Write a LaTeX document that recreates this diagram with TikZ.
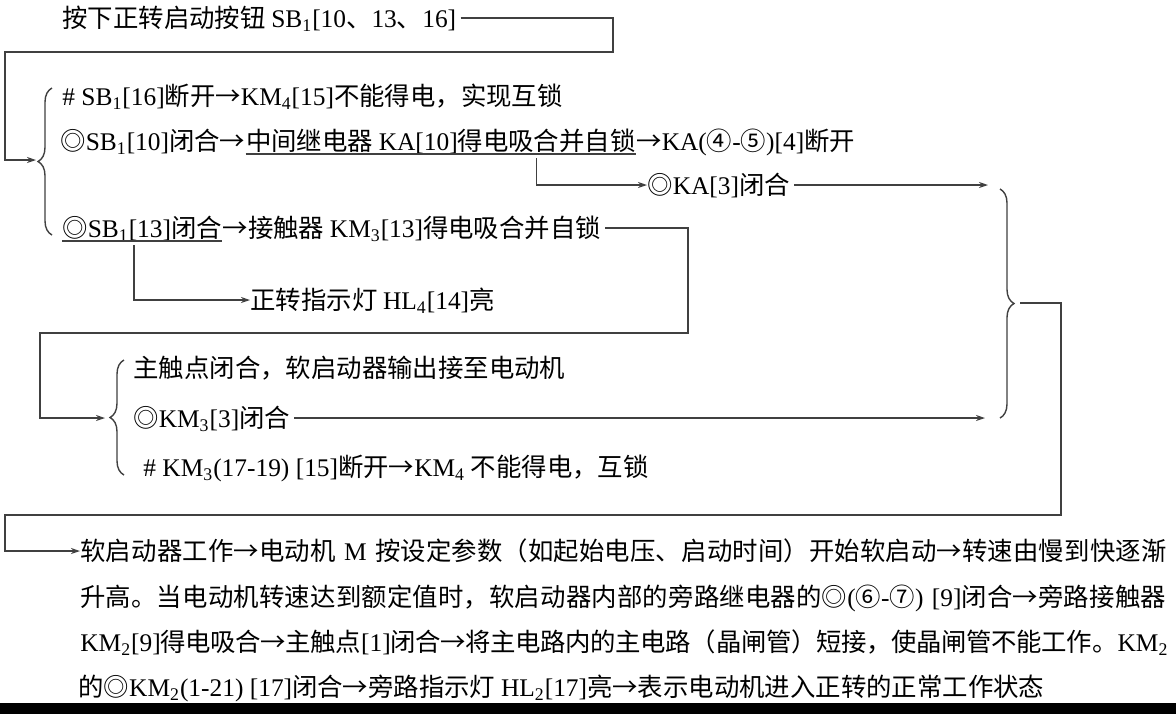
\documentclass[tikz,border=0pt]{standalone}
\usepackage{fontspec}
\setmainfont{Noto Sans CJK SC}
\newfontfamily\lat{Liberation Serif}
\usetikzlibrary{arrows.meta,decorations.pathreplacing,calc}
\newcommand{\ls}[1]{{\lat #1}}
\newcommand{\sbs}[1]{\textsubscript{#1}}
\XeTeXlinebreaklocale "zh"
\XeTeXlinebreakskip=0pt plus 2pt minus .6pt
\begin{document}
\begin{tikzpicture}[x=.5pt,y=-.5pt,
  txt/.style={anchor=west,inner sep=0pt,text height=11.2pt,text depth=1.5pt,
    font=\fontsize{12.7pt}{15pt}\selectfont},
  fullline/.style={text width=544pt,execute at begin node={\noindent\parfillskip=0pt}},
  ln/.style={draw=black!75,line width=.7pt},
  brc/.style={ln,decorate,decoration={brace,amplitude=7pt}},
  >={Stealth[length=4.5pt,width=3pt]}]

        \fill[white] (0,0) rectangle (1176,714);
        \useasboundingbox (0,0) rectangle (1176,714);
        \fill[black] (0,703) rectangle (1176,714);

        \begin{scope}[every node/.style={txt}]
          \node (1)  at (62,18)   {按下正转启动按钮 \ls{SB\sbs{1}[10}、\ls{13}、\ls{16]}};
          \node (2)  at (62,96)   {\ls{\# SB\sbs{1}[16]}断开→\ls{KM\sbs{4}[15]}不能得电，实现互锁};
          \node (3)  at (60,141)  {◎\ls{SB\sbs{1}[10]}闭合→};
          \node (4)  at (3.east)  {中间继电器 \ls{KA[10]}得电吸合并自锁};
          \node (5)  at (4.east)  {→\ls{KA(}④\ls{-}⑤\ls{)[4]}断开};
          \node (6)  at (647,185) {◎\ls{KA[3]}闭合};
          \node (7)  at (62,228)  {◎\ls{SB\sbs{1}[13]}闭合};
          \node (8)  at (7.east)  {→接触器 \ls{KM\sbs{3}[13]}得电吸合并自锁};
          \node (9)  at (250,300) {正转指示灯 \ls{HL\sbs{4}[14]}亮};
          \node (10) at (133,368) {主触点闭合，软启动器输出接至电动机};
          \node (11) at (133,418) {◎\ls{KM\sbs{3}[3]}闭合};
          \node (12) at (143,467) {\ls{\# KM\sbs{3}(17-19) [15]}断开→\ls{KM\sbs{4}} 不能得电，互锁};
          \node[fullline] (13) at (80,551) {软启动器工作→电动机 \ls{M} 按设定参数（如起始电压、启动时间）开始软启动→转速由慢到快逐渐};
          \node[fullline] (14) at (80,597) {升高。当电动机转速达到额定值时，软启动器内部的旁路继电器的◎\ls{(}⑥\ls{-}⑦\ls{) [9]}闭合→旁路接触器};
          \node[fullline] (15) at (80,642) {\ls{KM\sbs{2}[9]}得电吸合→主触点\ls{[1]}闭合→将主电路内的主电路（晶闸管）短接，使晶闸管不能工作。\ls{KM\sbs{2}}};
          \node (16) at (78,687)  {的◎\ls{KM\sbs{2}(1-21) [17]}闭合→旁路指示灯 \ls{HL\sbs{2}[17]}亮→表示电动机进入正转的正常工作状态};
        \end{scope}

        \coordinate (r1) at (613,52);
        \coordinate (l1) at (5,52);
        \coordinate (b1) at (36,160);
        \coordinate (a1) at (988,185);
        \coordinate (r2) at (688,333);
        \coordinate (l2) at (40,333);
        \coordinate (b2) at (105,418);
        \coordinate (a2) at (985,418);
        \coordinate (b3) at (1016,303);
        \coordinate (r3) at (1061,515);
        \coordinate (l3) at (5,515);

        \draw[brc] (52,235) -- (52,88);
        \draw[brc] (124,475) -- (124,360);
        \draw[brc] (1000,189) -- (1000,418);

        \draw[ln] (4.south west) -- (4.south east);
        \draw[ln] (7.south west) -- (7.south east);

        \begin{scope}[every path/.style={ln,->,shorten <=2pt}]
          \path (1.east)  -| (r1) -- (l1) |- (b1);
          \path ($(4.south west)!.745!(4.south east)$) |- (6.west);
          \path (6.east)  -- (a1);
          \path (8.east)  -| (r2) -- (l2) |- (b2);
          \path ($(7.south west)!.45!(7.south east)$) |- (9.west);
          \path (11.east) -- (a2);
          \path (b3)      -| (r3) -- (l3) |- (13.west);
        \end{scope}

      \end{tikzpicture}
\end{document}
